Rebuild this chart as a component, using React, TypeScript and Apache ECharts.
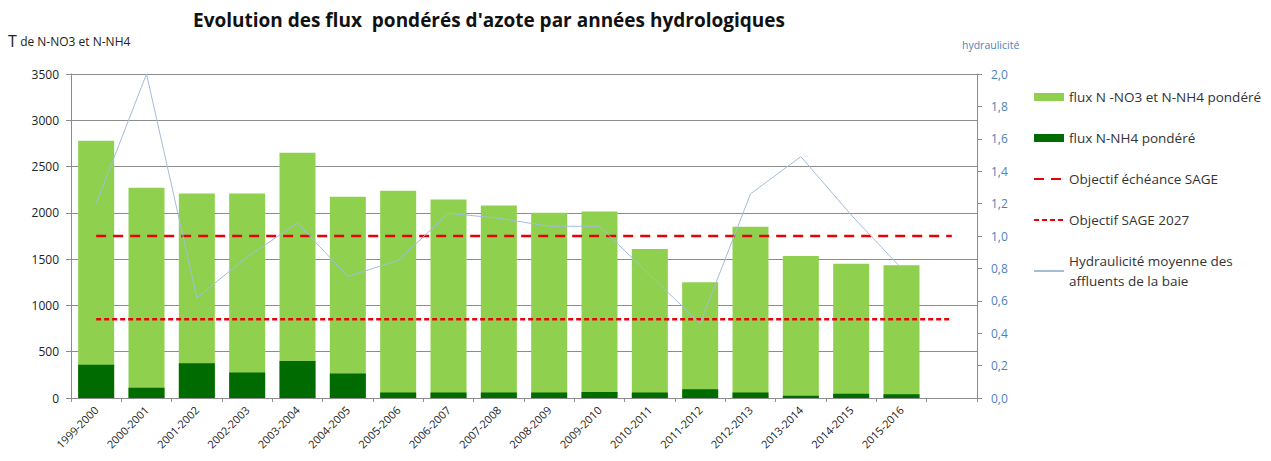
import React, { useEffect, useRef } from "react";
import * as echarts from "echarts";

const categories = [
  "1999-2000", "2000-2001", "2001-2002", "2002-2003", "2003-2004", "2004-2005",
  "2005-2006", "2006-2007", "2007-2008", "2008-2009", "2009-2010", "2010-2011",
  "2011-2012", "2012-2013", "2013-2014", "2014-2015", "2015-2016", "",
];
const fluxTotal = [2780, 2270, 2210, 2210, 2650, 2175, 2240, 2145, 2080, 2000, 2015, 1610, 1250, 1850, 1535, 1450, 1435, null];
const fluxNH4 = [360, 110, 375, 275, 400, 265, 60, 60, 60, 60, 65, 60, 95, 60, 25, 45, 40, null];
const objectifEcheance = [1750, 1750, 1750, 1750, 1750, 1750, 1750, 1750, 1750, 1750, 1750, 1750, 1750, 1750, 1750, 1750, 1750, 1750];
const objectif2027 = [850, 850, 850, 850, 850, 850, 850, 850, 850, 850, 850, 850, 850, 850, 850, 850, 850, 850];
const hydraulicite = [1.2, 2.0, 0.62, 0.87, 1.08, 0.75, 0.85, 1.14, 1.11, 1.06, 1.06, 0.76, 0.46, 1.26, 1.49, 1.13, 0.8, null];

const FONT = "'Open Sans', 'Liberation Sans', sans-serif";

export default function App() {
  const ref = useRef<HTMLDivElement>(null);
  useEffect(() => {
    if (!ref.current) return;
    const chart = echarts.init(ref.current, undefined, { renderer: "svg" });
    const hydroName = "Hydraulicité moyenne des affluents de la baie";
    chart.setOption({
      animation: false,
      backgroundColor: "#ffffff",
      textStyle: { fontFamily: FONT },
      title: {
        text: "Evolution des flux  pondérés d'azote par années hydrologiques",
        left: 188,
        top: 5,
        textStyle: { fontFamily: FONT, fontSize: 19, fontWeight: "bold", color: "#111111" },
      },
      graphic: [
        {
          type: "text",
          left: 8,
          top: 33,
          style: {
            text: "{a|T} {b|de N-NO3 et N-NH4}",
            rich: {
              a: { fontSize: 16, fill: "#222222", fontFamily: FONT },
              b: { fontSize: 12, fill: "#222222", fontFamily: FONT },
            },
          },
        },
        {
          type: "text",
          left: 962,
          top: 39,
          style: { text: "hydraulicité", fontSize: 10.5, fill: "#4f81bd", fontFamily: FONT },
        },
      ],
      legend: {
        orient: "vertical",
        left: 1028,
        top: 82,
        itemGap: 21,
        itemWidth: 30,
        itemHeight: 8,
        textStyle: { fontFamily: FONT, fontSize: 13.5, color: "#333333", lineHeight: 20 },
        formatter: (name: string) =>
          name === hydroName ? "Hydraulicité moyenne des\naffluents de la baie" : name,
        data: [
          { name: "flux N -NO3 et N-NH4 pondéré", icon: "rect" },
          { name: "flux N-NH4 pondéré", icon: "rect" },
          { name: "Objectif échéance SAGE", itemStyle: { opacity: 0 } },
          { name: "Objectif SAGE 2027", itemStyle: { opacity: 0 } },
          { name: hydroName, itemStyle: { opacity: 0 } },
        ],
      },
      grid: { left: 71, right: 294, top: 74, bottom: 63, outerBoundsMode: "none" },
      xAxis: {
        type: "category",
        data: categories,
        axisLine: { lineStyle: { color: "#8c8c8c" } },
        axisTick: { show: true, lineStyle: { color: "#8c8c8c" }, length: 4 },
        axisLabel: {
          rotate: 45,
          interval: 0,
          fontSize: 11,
          color: "#222222",
          fontFamily: FONT,
          margin: 10,
        },
      },
      yAxis: [
        {
          type: "value",
          min: 0,
          max: 3500,
          interval: 500,
          axisLine: { show: true, lineStyle: { color: "#8c8c8c" } },
          axisTick: { show: true, lineStyle: { color: "#8c8c8c" }, length: 5 },
          axisLabel: {
            fontSize: 12,
            color: "#222222",
            fontFamily: FONT,
            margin: 12,
            formatter: (v: number) => String(v),
          },
          splitLine: { show: true, lineStyle: { color: "#8c8c8c", width: 1 } },
        },
        {
          type: "value",
          min: 0,
          max: 2,
          interval: 0.2,
          position: "right",
          axisLine: { show: true, lineStyle: { color: "#8c8c8c" } },
          axisTick: { show: true, lineStyle: { color: "#8c8c8c" }, length: 5 },
          axisLabel: {
            fontSize: 12,
            color: "#4f81bd",
            fontFamily: FONT,
            margin: 14,
            formatter: (v: number) => v.toFixed(1).replace(".", ","),
          },
          splitLine: { show: false },
        },
      ],
      series: [
        {
          name: "flux N -NO3 et N-NH4 pondéré",
          type: "bar",
          data: fluxTotal,
          barWidth: 36,
          itemStyle: { color: "#8fd14f" },
          z: 2,
        },
        {
          name: "flux N-NH4 pondéré",
          type: "bar",
          data: fluxNH4,
          barWidth: 36,
          barGap: "-100%",
          itemStyle: { color: "#006b00" },
          z: 3,
        },
        {
          name: "Objectif échéance SAGE",
          type: "line",
          data: objectifEcheance,
          symbol: "none",
          lineStyle: { color: "#e8000b", width: 2.5, type: [10, 7] },
          itemStyle: { color: "#e8000b" },
          z: 4,
        },
        {
          name: "Objectif SAGE 2027",
          type: "line",
          data: objectif2027,
          symbol: "none",
          lineStyle: { color: "#e8000b", width: 2.5, type: [5, 3] },
          itemStyle: { color: "#e8000b" },
          z: 4,
        },
        {
          name: hydroName,
          type: "line",
          yAxisIndex: 1,
          data: hydraulicite,
          symbol: "none",
          lineStyle: { color: "#a3bcda", width: 1 },
          itemStyle: { color: "#a3bcda" },
          z: 5,
        },
      ],
    });
    return () => chart.dispose();
  }, []);
  return (
    <div
      ref={ref}
      style={{ position: "fixed", left: 0, top: 0, width: 1271, height: 461 }}
    />
  );
}
